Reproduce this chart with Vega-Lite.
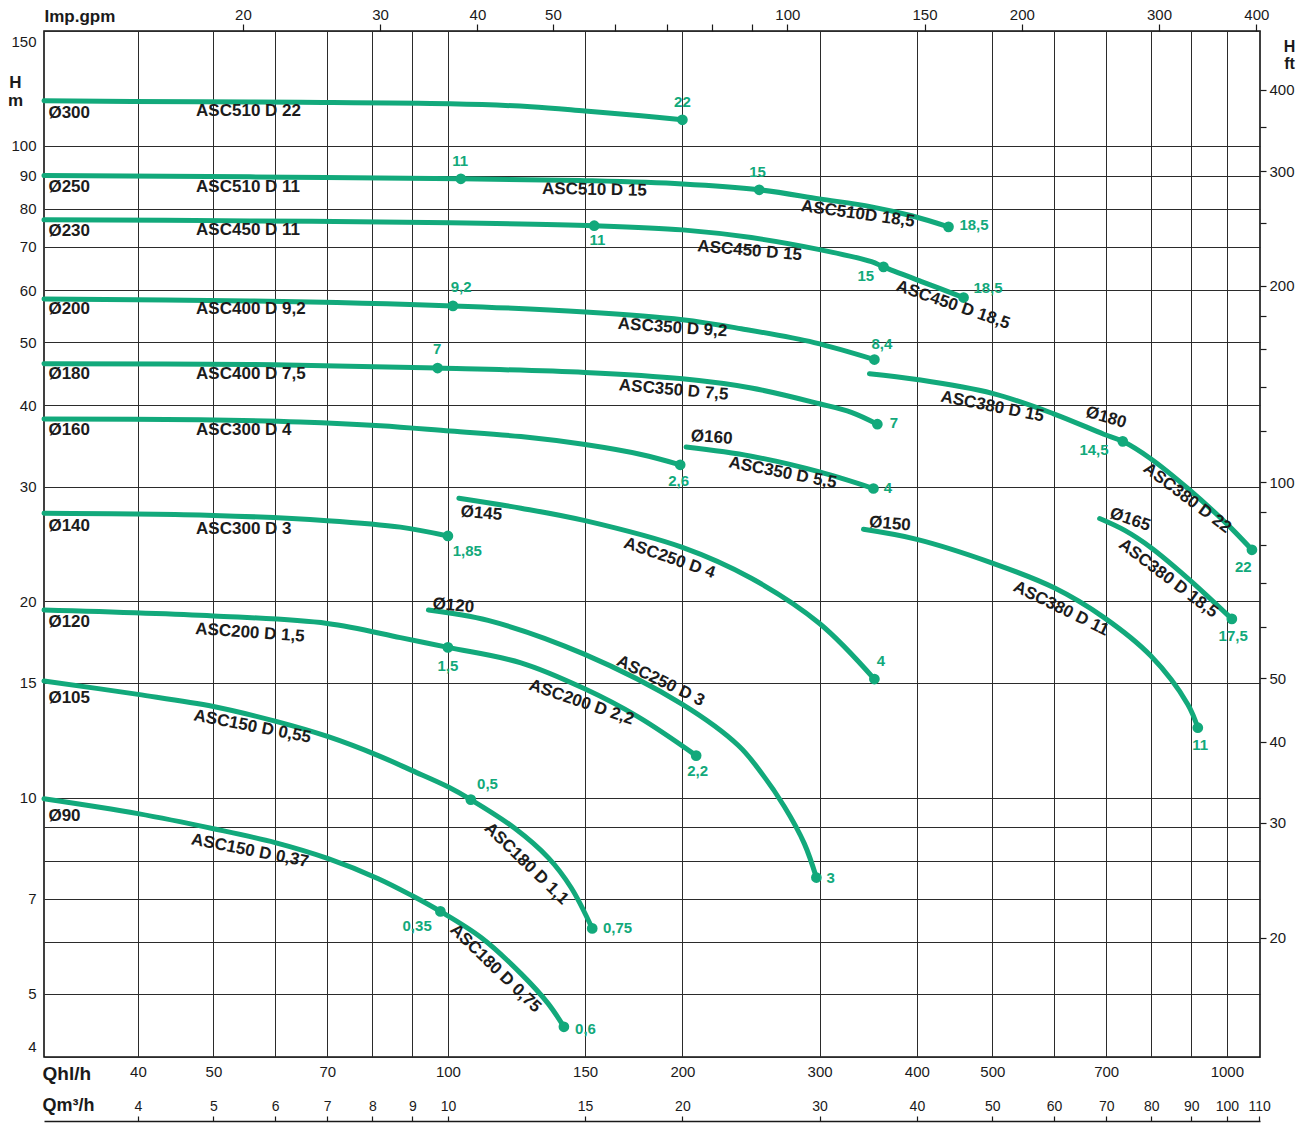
{
  "$schema": "https://vega.github.io/schema/vega-lite/v6.json",
  "width": 1216,
  "height": 1026,
  "autosize": "none",
  "padding": {"left": 44, "top": 31, "right": 44, "bottom": 67},
  "background": "white",
  "config": {
    "view": {"stroke": "#111111", "strokeWidth": 1.6},
    "font": "Liberation Sans",
    "axis": {"labelFont": "Liberation Sans", "titleFont": "Liberation Sans", "labelColor": "#1a1a1a", "titleColor": "#1a1a1a"}
  },
  "datasets": {
    "curves": [
      {"c": 1, "q": 30.3, "h": 117.2}, {"c": 1, "q": 48, "h": 116.8}, {"c": 1, "q": 64.6, "h": 116.6}, {"c": 1, "q": 100.7, "h": 116.0}, {"c": 1, "q": 127.8, "h": 114.8}, {"c": 1, "q": 150, "h": 113.1}, {"c": 1, "q": 177, "h": 111.2}, {"c": 1, "q": 200, "h": 109.6},
      {"c": 2, "q": 30.3, "h": 90}, {"c": 2, "q": 55.7, "h": 89.6}, {"c": 2, "q": 103.9, "h": 89.0}, {"c": 2, "q": 150, "h": 88.4}, {"c": 2, "q": 200, "h": 87.4}, {"c": 2, "q": 251, "h": 85.6}, {"c": 2, "q": 300, "h": 82.9}, {"c": 2, "q": 349.8, "h": 80.6}, {"c": 2, "q": 393.7, "h": 78.1}, {"c": 2, "q": 439.2, "h": 75.1},
      {"c": 3, "q": 30.3, "h": 77.0}, {"c": 3, "q": 55.7, "h": 76.7}, {"c": 3, "q": 100.7, "h": 76.2}, {"c": 3, "q": 154.1, "h": 75.4}, {"c": 3, "q": 200, "h": 74.3}, {"c": 3, "q": 245.2, "h": 72.3}, {"c": 3, "q": 300, "h": 69.3}, {"c": 3, "q": 349.8, "h": 66.4}, {"c": 3, "q": 362.4, "h": 65.2}, {"c": 3, "q": 405.5, "h": 61.9}, {"c": 3, "q": 459.2, "h": 58.5},
      {"c": 4, "q": 30.3, "h": 58.2}, {"c": 4, "q": 55.7, "h": 57.8}, {"c": 4, "q": 101.5, "h": 56.8}, {"c": 4, "q": 150, "h": 55.6}, {"c": 4, "q": 200, "h": 54.1}, {"c": 4, "q": 238, "h": 52.4}, {"c": 4, "q": 295.3, "h": 49.9}, {"c": 4, "q": 352.8, "h": 47.0},
      {"c": 5, "q": 30.3, "h": 46.3}, {"c": 5, "q": 55.7, "h": 46.2}, {"c": 5, "q": 97.0, "h": 45.6}, {"c": 5, "q": 150, "h": 44.9}, {"c": 5, "q": 200, "h": 43.9}, {"c": 5, "q": 245.2, "h": 42.5}, {"c": 5, "q": 300, "h": 40.2}, {"c": 5, "q": 329.6, "h": 39.0}, {"c": 5, "q": 355.9, "h": 37.4},
      {"c": 6, "q": 30.3, "h": 38.1}, {"c": 6, "q": 48, "h": 38.0}, {"c": 6, "q": 64.6, "h": 37.7}, {"c": 6, "q": 81.9, "h": 37.2}, {"c": 6, "q": 100.7, "h": 36.5}, {"c": 6, "q": 124.1, "h": 35.8}, {"c": 6, "q": 150, "h": 34.8}, {"c": 6, "q": 177, "h": 33.6}, {"c": 6, "q": 198.7, "h": 32.4},
      {"c": 7, "q": 202.2, "h": 34.5}, {"c": 7, "q": 245.2, "h": 33.4}, {"c": 7, "q": 300, "h": 31.6}, {"c": 7, "q": 351.8, "h": 29.8},
      {"c": 8, "q": 347.7, "h": 44.7}, {"c": 8, "q": 400, "h": 43.8}, {"c": 8, "q": 500, "h": 41.7}, {"c": 8, "q": 599.4, "h": 38.8}, {"c": 8, "q": 695, "h": 36.1}, {"c": 8, "q": 735.1, "h": 35.2}, {"c": 8, "q": 798.5, "h": 33.1}, {"c": 8, "q": 891.1, "h": 29.8}, {"c": 8, "q": 1000, "h": 26.3}, {"c": 8, "q": 1077, "h": 24.0},
      {"c": 9, "q": 30.3, "h": 27.3}, {"c": 9, "q": 50, "h": 27.1}, {"c": 9, "q": 70, "h": 26.6}, {"c": 9, "q": 86.9, "h": 26.0}, {"c": 9, "q": 100, "h": 25.2},
      {"c": 10, "q": 103.3, "h": 28.8}, {"c": 10, "q": 124.1, "h": 27.8}, {"c": 10, "q": 150, "h": 26.6}, {"c": 10, "q": 200, "h": 24.2}, {"c": 10, "q": 245.2, "h": 21.7}, {"c": 10, "q": 300, "h": 18.5}, {"c": 10, "q": 352.8, "h": 15.2},
      {"c": 11, "q": 341.6, "h": 25.8}, {"c": 11, "q": 400, "h": 24.9}, {"c": 11, "q": 500, "h": 22.9}, {"c": 11, "q": 599.4, "h": 21.0}, {"c": 11, "q": 695, "h": 18.9}, {"c": 11, "q": 798.5, "h": 16.5}, {"c": 11, "q": 891.1, "h": 13.9}, {"c": 11, "q": 917.8, "h": 12.8},
      {"c": 12, "q": 686.6, "h": 26.8}, {"c": 12, "q": 739.5, "h": 25.7}, {"c": 12, "q": 798.5, "h": 24.2}, {"c": 12, "q": 891.1, "h": 21.7}, {"c": 12, "q": 1014.9, "h": 18.8},
      {"c": 13, "q": 30.3, "h": 19.4}, {"c": 13, "q": 50, "h": 19.0}, {"c": 13, "q": 70, "h": 18.5}, {"c": 13, "q": 86.9, "h": 17.6}, {"c": 13, "q": 100, "h": 17.0}, {"c": 13, "q": 124.1, "h": 16.1}, {"c": 13, "q": 149.6, "h": 14.7}, {"c": 13, "q": 175.5, "h": 13.3}, {"c": 13, "q": 208.3, "h": 11.6},
      {"c": 14, "q": 94.4, "h": 19.4}, {"c": 14, "q": 112.6, "h": 18.7}, {"c": 14, "q": 149.6, "h": 16.6}, {"c": 14, "q": 200, "h": 13.9}, {"c": 14, "q": 236, "h": 12.02}, {"c": 14, "q": 252.5, "h": 10.92}, {"c": 14, "q": 270.3, "h": 9.69}, {"c": 14, "q": 286.8, "h": 8.50}, {"c": 14, "q": 297.2, "h": 7.54},
      {"c": 15, "q": 30.3, "h": 15.1}, {"c": 15, "q": 40, "h": 14.4}, {"c": 15, "q": 50, "h": 13.8}, {"c": 15, "q": 60, "h": 13.1}, {"c": 15, "q": 70.2, "h": 12.4}, {"c": 15, "q": 81.4, "h": 11.6}, {"c": 15, "q": 90, "h": 11.0}, {"c": 15, "q": 100, "h": 10.39}, {"c": 15, "q": 107.0, "h": 9.93}, {"c": 15, "q": 121.6, "h": 8.99}, {"c": 15, "q": 134.5, "h": 8.09}, {"c": 15, "q": 143.9, "h": 7.28}, {"c": 15, "q": 153.2, "h": 6.30},
      {"c": 16, "q": 30.3, "h": 9.96}, {"c": 16, "q": 40, "h": 9.45}, {"c": 16, "q": 50, "h": 8.96}, {"c": 16, "q": 60, "h": 8.53}, {"c": 16, "q": 70.2, "h": 8.06}, {"c": 16, "q": 81.4, "h": 7.51}, {"c": 16, "q": 90, "h": 7.07}, {"c": 16, "q": 97.8, "h": 6.69}, {"c": 16, "q": 110.3, "h": 6.10}, {"c": 16, "q": 124.1, "h": 5.37}, {"c": 16, "q": 134.5, "h": 4.83}, {"c": 16, "q": 140.9, "h": 4.45}
    ],
    "dots": [
      {"q": 200, "h": 109.6}, {"q": 103.9, "h": 89.0}, {"q": 251, "h": 85.6}, {"q": 439.2, "h": 75.1},
      {"q": 154.1, "h": 75.4}, {"q": 362.4, "h": 65.2}, {"q": 459.2, "h": 58.5},
      {"q": 101.5, "h": 56.8}, {"q": 352.8, "h": 47.0},
      {"q": 97.0, "h": 45.6}, {"q": 355.9, "h": 37.4},
      {"q": 198.7, "h": 32.4}, {"q": 351.8, "h": 29.8},
      {"q": 735.1, "h": 35.2}, {"q": 1077, "h": 24.0},
      {"q": 100, "h": 25.2}, {"q": 352.8, "h": 15.2},
      {"q": 917.8, "h": 12.8}, {"q": 1014.9, "h": 18.8},
      {"q": 100, "h": 17.0}, {"q": 208.3, "h": 11.6}, {"q": 297.2, "h": 7.54},
      {"q": 107.0, "h": 9.93}, {"q": 153.2, "h": 6.30},
      {"q": 97.8, "h": 6.69}, {"q": 140.9, "h": 4.45}
    ],
    "powers": [
      {"q": 200, "h": 116.8, "t": "22"}, {"q": 103.7, "h": 94.8, "t": "11"}, {"q": 249.8, "h": 91.2, "t": "15"}, {"q": 473.6, "h": 75.6, "t": "18,5"},
      {"q": 155.6, "h": 71.7, "t": "11"}, {"q": 344.0, "h": 63.2, "t": "15"}, {"q": 493.6, "h": 60.6, "t": "18,5"},
      {"q": 104.0, "h": 60.8, "t": "9,2"}, {"q": 360.7, "h": 49.7, "t": "8,4"},
      {"q": 96.9, "h": 48.8, "t": "7"}, {"q": 373.7, "h": 37.5, "t": "7"},
      {"q": 197.8, "h": 30.6, "t": "2,6"}, {"q": 367.2, "h": 29.9, "t": "4"},
      {"q": 105.9, "h": 23.9, "t": "1,85"}, {"q": 359.6, "h": 16.2, "t": "4"},
      {"q": 675.3, "h": 34.2, "t": "14,5"}, {"q": 1049.7, "h": 22.6, "t": "22"},
      {"q": 1019, "h": 17.7, "t": "17,5"}, {"q": 924.4, "h": 12.06, "t": "11"},
      {"q": 100, "h": 15.9, "t": "1,5"}, {"q": 209.2, "h": 11.0, "t": "2,2"},
      {"q": 112.4, "h": 10.5, "t": "0,5"}, {"q": 310.1, "h": 7.54, "t": "3"},
      {"q": 165.1, "h": 6.32, "t": "0,75"}, {"q": 91.3, "h": 6.36, "t": "0,35"},
      {"q": 150.2, "h": 4.42, "t": "0,6"}
    ],
    "lab_a0": [
      {"q": 30.7, "h": 112.4, "t": "Ø300"}, {"q": 30.7, "h": 86.5, "t": "Ø250"}, {"q": 30.7, "h": 74.1, "t": "Ø230"},
      {"q": 30.7, "h": 56.1, "t": "Ø200"}, {"q": 30.7, "h": 44.6, "t": "Ø180"}, {"q": 30.7, "h": 36.7, "t": "Ø160"},
      {"q": 30.7, "h": 26.1, "t": "Ø140"}, {"q": 30.7, "h": 18.6, "t": "Ø120"}, {"q": 30.7, "h": 14.2, "t": "Ø105"},
      {"q": 30.7, "h": 9.38, "t": "Ø90"},
      {"q": 47.5, "h": 113.2, "t": "ASC510 D 22"}, {"q": 47.5, "h": 86.5, "t": "ASC510 D 11"}, {"q": 47.5, "h": 74.3, "t": "ASC450 D 11"},
      {"q": 47.5, "h": 56.1, "t": "ASC400 D 9,2"}, {"q": 47.5, "h": 44.6, "t": "ASC400 D 7,5"}, {"q": 47.5, "h": 36.7, "t": "ASC300 D 4"},
      {"q": 47.5, "h": 25.8, "t": "ASC300 D 3"}
    ],
    "lab_a1": [{"q": 154.2, "h": 85.6, "t": "ASC510 D 15"}],
    "lab_a4": [{"q": 194.3, "h": 52.6, "t": "ASC350 D 9,2"}, {"q": 55.7, "h": 17.9, "t": "ASC200 D 1,5"}, {"q": 218.1, "h": 35.7, "t": "Ø160"}],
    "lab_a5": [{"q": 244.0, "h": 69.0, "t": "ASC450 D 15"}, {"q": 194.9, "h": 42.2, "t": "ASC350 D 7,5"}, {"q": 110.4, "h": 27.3, "t": "Ø145"}, {"q": 369.4, "h": 26.3, "t": "Ø150"}, {"q": 101.6, "h": 19.7, "t": "Ø120"}],
    "lab_a8": [{"q": 336.0, "h": 78.6, "t": "ASC510D 18,5"}],
    "lab_a11": [{"q": 269.0, "h": 31.5, "t": "ASC350 D 5,5"}, {"q": 500, "h": 39.8, "t": "ASC380 D 15"}, {"q": 56.1, "h": 12.85, "t": "ASC150 D 0,55"}, {"q": 55.7, "h": 8.29, "t": "ASC150 D 0,37"}],
    "lab_a16": [{"q": 699.8, "h": 38.3, "t": "Ø180"}],
    "lab_a19": [{"q": 192.5, "h": 23.3, "t": "ASC250 D 4"}, {"q": 445.0, "h": 57.0, "t": "ASC450 D 18,5"}, {"q": 148.4, "h": 14.0, "t": "ASC200 D 2,2"}, {"q": 751.3, "h": 26.7, "t": "Ø165"}],
    "lab_a26": [{"q": 187.5, "h": 15.1, "t": "ASC250 D 3"}, {"q": 612.6, "h": 19.5, "t": "ASC380 D 11"}],
    "lab_a37": [{"q": 889.3, "h": 28.8, "t": "ASC380 D 22"}, {"q": 840.8, "h": 21.7, "t": "ASC380 D 18,5"}],
    "lab_a44": [{"q": 126.1, "h": 7.92, "t": "ASC180 D 1,1"}, {"q": 115.1, "h": 5.47, "t": "ASC180 D 0,75"}],
    "gpm_axis": [{"gpm": 20}, {"gpm": 50}, {"gpm": 100}, {"gpm": 400}],
    "m3_axis": [{"m3": 4}, {"m3": 10}, {"m3": 100}],
    "ft_axis": [{"ft": 20}, {"ft": 100}, {"ft": 400}]
  },
  "layer": [
    {
      "encoding": {
        "x": {
          "field": "q", "type": "quantitative",
          "scale": {"type": "log", "domain": [30.3, 1103], "nice": false, "zero": false},
          "axis": {
            "orient": "bottom", "title": "Qhl/h",
            "values": [40, 50, 60, 70, 80, 90, 100, 150, 200, 300, 400, 500, 600, 700, 800, 900, 1000],
            "labelExpr": "indexof([60, 80, 90, 600, 800, 900], datum.value) >= 0 ? '' : format(datum.value, 'd')",
            "grid": true, "gridColor": "#2b2b2b", "gridWidth": 1, "gridOpacity": 1,
            "domain": false, "ticks": false, "tickSize": 0, "labelPadding": 7,
            "labelFontSize": 15, "labelOverlap": false, "labelFlush": false, "labelBound": false,
            "titleFontSize": 19, "titleFontWeight": "bold", "titleX": -2, "titleY": 22, "titleAlign": "left", "titleBaseline": "alphabetic", "titleAngle": 0
          }
        },
        "y": {
          "field": "h", "type": "quantitative",
          "scale": {"type": "log", "domain": [4, 150], "nice": false, "zero": false},
          "axis": {
            "orient": "left", "title": ["H", "m"],
            "values": [4, 5, 6, 7, 8, 9, 10, 15, 20, 30, 40, 50, 60, 70, 80, 90, 100, 150],
            "labelExpr": "indexof([6, 8, 9], datum.value) >= 0 ? '' : format(datum.value, 'd')",
            "grid": true, "gridColor": "#2b2b2b", "gridWidth": 1, "gridOpacity": 1,
            "domain": false, "ticks": false, "tickSize": 0, "labelPadding": 8,
            "labelFontSize": 15, "labelOverlap": false, "labelFlush": true, "labelFlushOffset": -3, "labelBound": false,
            "titleFontSize": 17, "titleFontWeight": "bold", "titleAngle": 0, "titleX": -29, "titleY": 56, "titleAlign": "center", "titleBaseline": "alphabetic", "titleLineHeight": 18
          }
        }
      },
      "layer": [
        {
          "data": {"name": "curves"},
          "mark": {"type": "line", "color": "#12a97b", "strokeWidth": 5, "interpolate": "catmull-rom", "strokeCap": "round"},
          "encoding": {"detail": {"field": "c", "type": "nominal"}}
        },
        {
          "data": {"name": "dots"},
          "mark": {"type": "point", "filled": true, "color": "#12a97b", "size": 115, "opacity": 1, "strokeWidth": 0},
          "encoding": {}
        },
        {
          "data": {"name": "powers"},
          "mark": {"type": "text", "color": "#12a97b", "font": "Liberation Sans", "fontSize": 15, "fontWeight": "bold", "align": "center", "baseline": "middle"},
          "encoding": {"text": {"field": "t"}}
        },
        {
          "data": {"name": "lab_a0"},
          "mark": {"type": "text", "color": "#1c1c1c", "font": "Liberation Sans", "fontSize": 17, "fontWeight": "bold", "align": "left", "baseline": "middle"},
          "encoding": {"text": {"field": "t"}}
        },
        {
          "data": {"name": "lab_a1"},
          "mark": {"type": "text", "color": "#1c1c1c", "font": "Liberation Sans", "fontSize": 17, "fontWeight": "bold", "align": "center", "baseline": "middle", "angle": 1},
          "encoding": {"text": {"field": "t"}}
        },
        {
          "data": {"name": "lab_a4"},
          "mark": {"type": "text", "color": "#1c1c1c", "font": "Liberation Sans", "fontSize": 17, "fontWeight": "bold", "align": "center", "baseline": "middle", "angle": 4},
          "encoding": {"text": {"field": "t"}}
        },
        {
          "data": {"name": "lab_a5"},
          "mark": {"type": "text", "color": "#1c1c1c", "font": "Liberation Sans", "fontSize": 17, "fontWeight": "bold", "align": "center", "baseline": "middle", "angle": 5},
          "encoding": {"text": {"field": "t"}}
        },
        {
          "data": {"name": "lab_a8"},
          "mark": {"type": "text", "color": "#1c1c1c", "font": "Liberation Sans", "fontSize": 17, "fontWeight": "bold", "align": "center", "baseline": "middle", "angle": 8},
          "encoding": {"text": {"field": "t"}}
        },
        {
          "data": {"name": "lab_a11"},
          "mark": {"type": "text", "color": "#1c1c1c", "font": "Liberation Sans", "fontSize": 17, "fontWeight": "bold", "align": "center", "baseline": "middle", "angle": 11},
          "encoding": {"text": {"field": "t"}}
        },
        {
          "data": {"name": "lab_a16"},
          "mark": {"type": "text", "color": "#1c1c1c", "font": "Liberation Sans", "fontSize": 17, "fontWeight": "bold", "align": "center", "baseline": "middle", "angle": 16},
          "encoding": {"text": {"field": "t"}}
        },
        {
          "data": {"name": "lab_a19"},
          "mark": {"type": "text", "color": "#1c1c1c", "font": "Liberation Sans", "fontSize": 17, "fontWeight": "bold", "align": "center", "baseline": "middle", "angle": 19},
          "encoding": {"text": {"field": "t"}}
        },
        {
          "data": {"name": "lab_a26"},
          "mark": {"type": "text", "color": "#1c1c1c", "font": "Liberation Sans", "fontSize": 17, "fontWeight": "bold", "align": "center", "baseline": "middle", "angle": 26},
          "encoding": {"text": {"field": "t"}}
        },
        {
          "data": {"name": "lab_a37"},
          "mark": {"type": "text", "color": "#1c1c1c", "font": "Liberation Sans", "fontSize": 17, "fontWeight": "bold", "align": "center", "baseline": "middle", "angle": 37},
          "encoding": {"text": {"field": "t"}}
        },
        {
          "data": {"name": "lab_a44"},
          "mark": {"type": "text", "color": "#1c1c1c", "font": "Liberation Sans", "fontSize": 17, "fontWeight": "bold", "align": "center", "baseline": "middle", "angle": 44},
          "encoding": {"text": {"field": "t"}}
        }
      ]
    },
    {
      "data": {"name": "gpm_axis"},
      "mark": {"type": "point", "opacity": 0},
      "encoding": {
        "x": {
          "field": "gpm", "type": "quantitative",
          "scale": {"type": "log", "domain": [11.108, 404.37], "nice": false, "zero": false},
          "axis": {
            "orient": "top", "title": "Imp.gpm",
            "values": [20, 30, 40, 50, 60, 70, 80, 90, 100, 150, 200, 300, 400],
            "labelExpr": "indexof([60, 70, 80, 90], datum.value) >= 0 ? '' : format(datum.value, 'd')",
            "grid": false, "domain": false, "ticks": true, "tickSize": 7, "tickColor": "#1a1a1a", "tickWidth": 1.2,
            "labelPadding": 2, "labelFontSize": 15, "labelOverlap": false, "labelFlush": false, "labelBound": false,
            "titleFontSize": 17, "titleFontWeight": "bold", "titleX": 0, "titleY": -10, "titleAlign": "left", "titleBaseline": "alphabetic", "titleAngle": 0
          }
        }
      }
    },
    {
      "data": {"name": "m3_axis"},
      "mark": {"type": "point", "opacity": 0},
      "encoding": {
        "x": {
          "field": "m3", "type": "quantitative",
          "scale": {"type": "log", "domain": [3.03, 110.3], "nice": false, "zero": false},
          "axis": {
            "orient": "bottom", "offset": 64, "title": "Qm³/h",
            "values": [4, 5, 6, 7, 8, 9, 10, 15, 20, 30, 40, 50, 60, 70, 80, 90, 100, 110],
            "format": "d",
            "grid": false, "domain": true, "domainColor": "#1a1a1a", "domainWidth": 1.5,
            "ticks": true, "tickSize": -5, "tickColor": "#1a1a1a", "tickWidth": 1.2,
            "labelPadding": -6, "labelBaseline": "alphabetic", "labelFontSize": 14, "labelOverlap": false, "labelFlush": false, "labelBound": false,
            "titleFontSize": 18, "titleFontWeight": "bold", "titleX": -2, "titleY": -11, "titleAlign": "left", "titleBaseline": "alphabetic", "titleAngle": 0
          }
        }
      }
    },
    {
      "data": {"name": "ft_axis"},
      "mark": {"type": "point", "opacity": 0},
      "encoding": {
        "y": {
          "field": "ft", "type": "quantitative",
          "scale": {"type": "log", "domain": [13.1234, 492.126], "nice": false, "zero": false},
          "axis": {
            "orient": "right", "title": ["H", "ft"],
            "values": [20, 30, 40, 50, 60, 70, 80, 90, 100, 120, 140, 160, 180, 200, 250, 300, 350, 400],
            "labelExpr": "indexof([20, 30, 40, 50, 100, 200, 300, 400], datum.value) >= 0 ? format(datum.value, 'd') : ''",
            "grid": false, "domain": false, "ticks": true, "tickSize": 6, "tickColor": "#1a1a1a", "tickWidth": 1.2,
            "labelPadding": 3, "labelFontSize": 15, "labelOverlap": false, "labelFlush": false, "labelBound": false,
            "titleFontSize": 16, "titleFontWeight": "bold", "titleAngle": 0, "titleX": 29, "titleY": 20, "titleAlign": "center", "titleBaseline": "alphabetic", "titleLineHeight": 17
          }
        }
      }
    }
  ],
  "resolve": {"scale": {"x": "independent", "y": "independent"}}
}
